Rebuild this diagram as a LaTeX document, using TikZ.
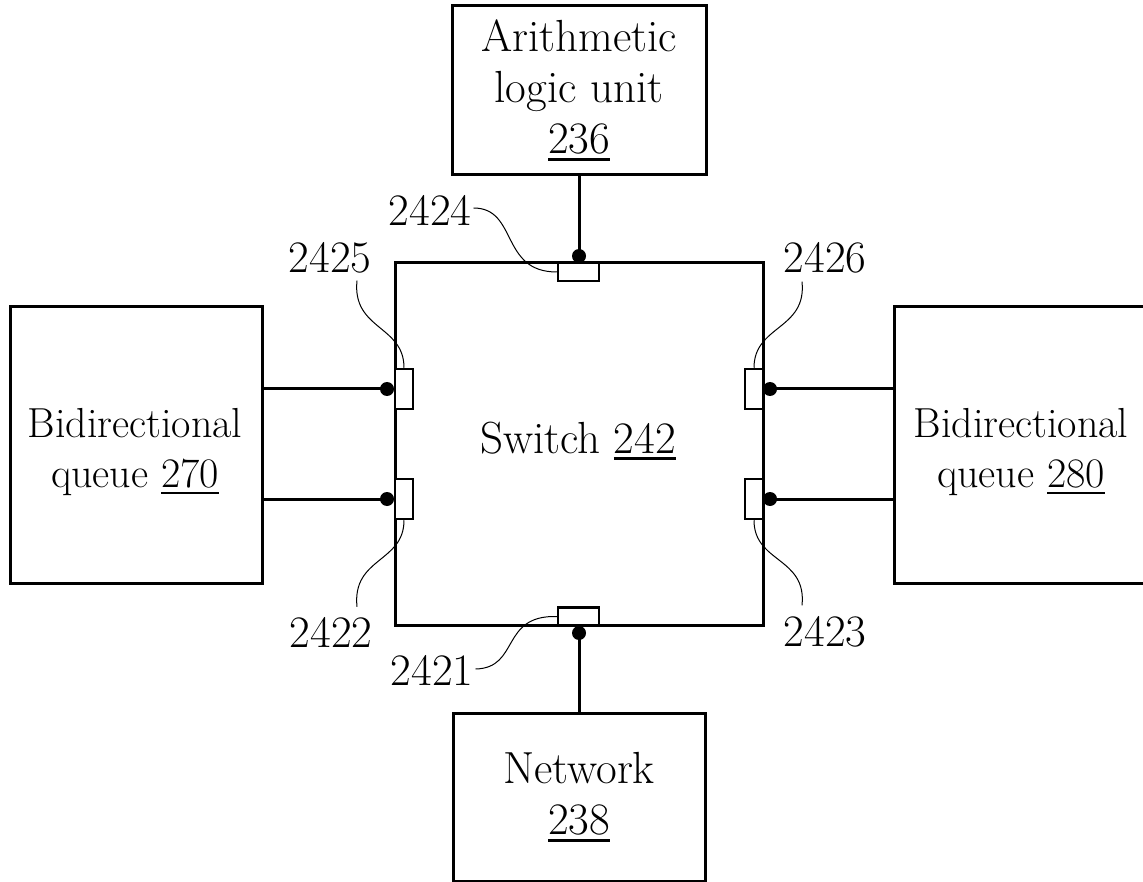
\documentclass[tikz,border=0pt]{standalone}
\usetikzlibrary{calc}
\newcommand\refnum[1]{\setbox0\hbox{#1}\rlap{\rule[-7pt]{\wd0}{2.8pt}}\box0}
\begin{document}
\begin{tikzpicture}[x=1pt,y=-1pt,
  box/.style={draw,line width=3pt,inner sep=0pt,align=center,font=\fontsize{45}{51}\selectfont},
  qtxt/.style={inner sep=0pt,align=center,font=\fontsize{42}{50}\selectfont},
  port/.style={draw,line width=2.5pt,inner sep=0pt,fill=white},
  dot/.style={circle,fill=black,inner sep=0pt,minimum size=14pt},
  conn/.style={line width=3pt},
  leader/.style={line width=1pt},
  lbl/.style={inner sep=0pt,font=\fontsize{45}{50}\selectfont}]
\useasboundingbox (0,0) rectangle (1143,882);
\clip (0,0) rectangle (1143,882);
% boxes
\node[box,minimum width=254pt,minimum height=169pt] (alu) at (579,90.5) {Arithmetic\\logic unit\\\refnum{236}};
\node[box,minimum width=252pt,minimum height=168pt] (net) at (579,797) {Network\\\refnum{238}};
\node[box,minimum width=252pt,minimum height=276pt] (qL) at (136,445) {};
\node[box,minimum width=252pt,minimum height=276pt] (qR) at (1020,445) {};
\node[qtxt] (qLt) at (135,452) {Bidirectional\\queue \refnum{270}};
\node[qtxt] (qRt) at (1021,452) {Bidirectional\\queue \refnum{280}};
\node[box,minimum width=368pt,minimum height=362pt] (sw) at (579,444) {};
\node[inner sep=0pt,font=\fontsize{45}{50}\selectfont] (swt) at (578,441) {Switch \refnum{242}};
% ports
\node[port,minimum width=41pt,minimum height=18pt] (pT) at (578.5,272) {};
\node[port,minimum width=41pt,minimum height=18pt] (pB) at (578.5,616.5) {};
\node[port,minimum width=18pt,minimum height=40pt] (pL1) at (404,389) {};
\node[port,minimum width=18pt,minimum height=40pt] (pL2) at (404,499) {};
\node[port,minimum width=18pt,minimum height=40pt] (pR1) at (754,389) {};
\node[port,minimum width=18pt,minimum height=40pt] (pR2) at (754,499) {};
% dot positions
\coordinate (dT) at (579,256);
\coordinate (dB) at (579,633);
\coordinate (dL1) at (387,389);
\coordinate (dL2) at (387,499);
\coordinate (dR1) at (770,389);
\coordinate (dR2) at (770,499);
% connectors
\draw[conn] (alu.south) -- (dT);
\draw[conn] (dB) -- (net.north);
\draw[conn] (dL1 -| qL.east) -- (dL1);
\draw[conn] (dL2 -| qL.east) -- (dL2);
\draw[conn] (dR1) -- (dR1 -| qR.west);
\draw[conn] (dR2) -- (dR2 -| qR.west);
\foreach \d in {dT,dB,dL1,dL2,dR1,dR2} \node[dot] at (\d) {};
% labels
\node[lbl] (l2424) at (430,210) {2424};
\node[lbl] (l2425) at (330,258) {2425};
\node[lbl] (l2426) at (825,258) {2426};
\node[lbl] (l2422) at (331,632) {2422};
\node[lbl] (l2423) at (825,632) {2423};
\node[lbl] (l2421) at (432,670) {2421};
% leaders
\draw[leader] ($(l2425.south)+(27,7)$) .. controls (352,330) and (404,325) .. (pL1.north);
\draw[leader] ($(l2422.north)+(26,-10)$) .. controls (352,557) and (404,563) .. (pL2.south);
\draw[leader] ($(l2426.south)+(-23,8)$) .. controls (807,330) and (754,325) .. (pR1.north);
\draw[leader] ($(l2423.north)+(-23,-11)$) .. controls (807,557) and (754,563) .. (pR2.south);
\draw[leader] ($(l2421.east)+(2,-1)$) .. controls (520,668) and (500,615) .. (pB.west);
\draw[leader] ($(l2424.east)+(2,-2)$) .. controls (518,208) and (500,272) .. (pT.west);
\end{tikzpicture}
\end{document}
